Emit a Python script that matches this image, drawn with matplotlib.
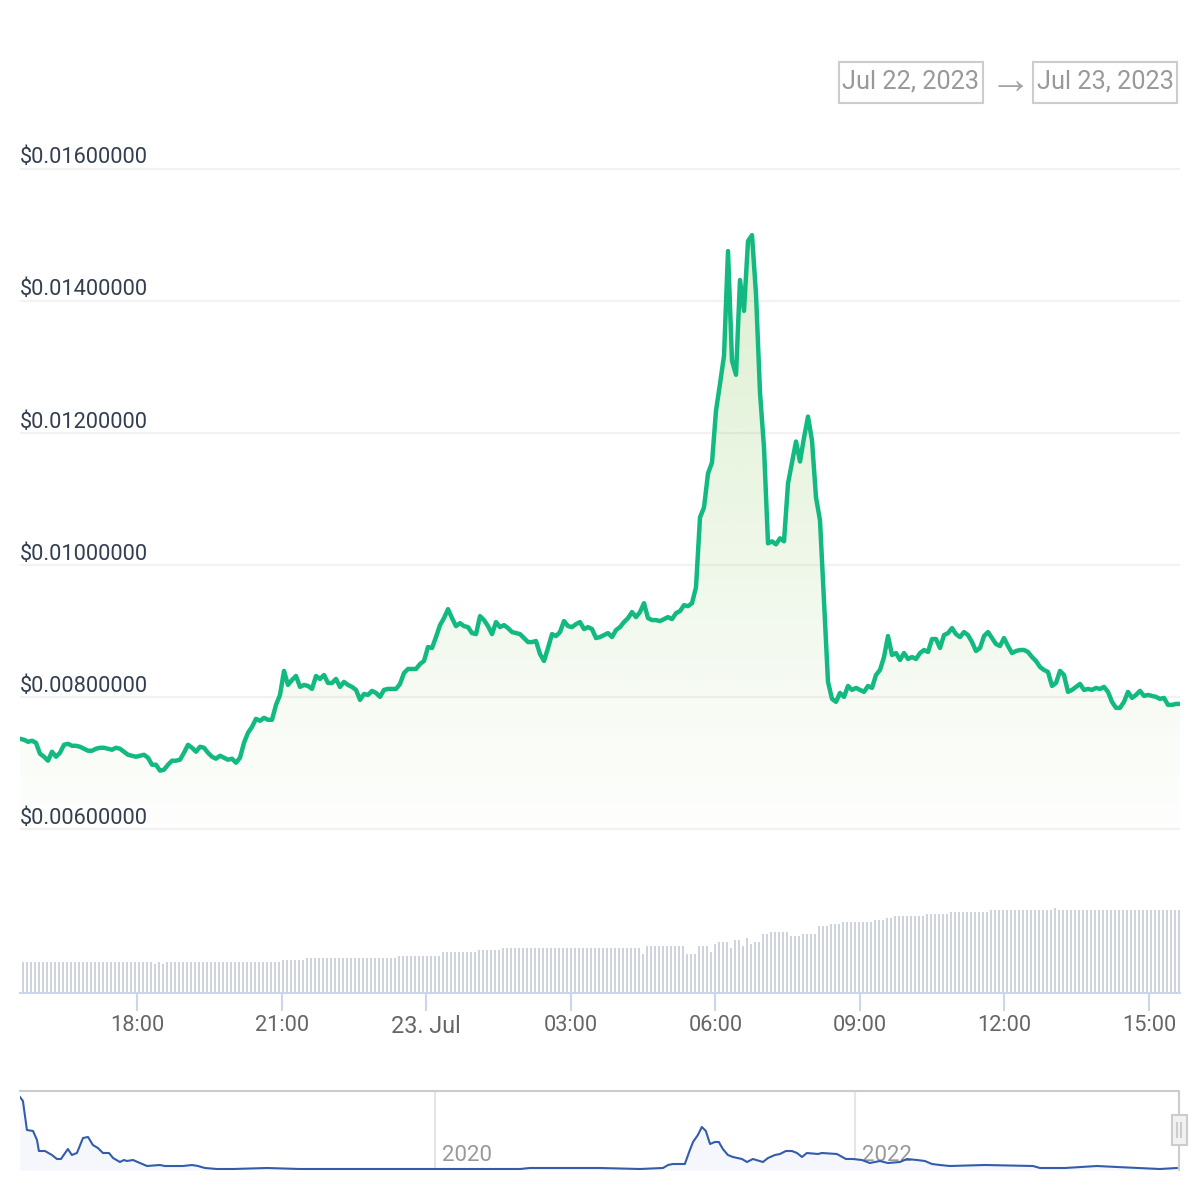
# price chart with volume bars and navigator strip
import numpy as np
import pandas as pd
import matplotlib
matplotlib.use('Agg')
import matplotlib.pyplot as plt
import matplotlib.dates as mdates
from matplotlib.patches import Rectangle

plt.rcParams['font.family'] = ['Roboto', 'DejaVu Sans']

# price in millionths of a dollar, one value every 5 minutes or so
price_e6 = [
    7366, 7351, 7320, 7336, 7305, 7139, 7094, 7034, 7170, 7094, 7154, 7275, 7290, 7260, 7260, 7245,
    7215, 7185, 7185, 7215, 7230, 7230, 7215, 7200, 7230, 7215, 7170, 7124, 7109, 7094, 7109, 7124,
    7079, 6973, 6973, 6883, 6898, 6973, 7034, 7034, 7049, 7154, 7275, 7230, 7170, 7245, 7230, 7154,
    7094, 7064, 7109, 7079, 7049, 7064, 7003, 7079, 7305, 7456, 7547, 7668, 7638, 7683, 7653, 7653,
    7879, 8030, 8393, 8181, 8257, 8317, 8151, 8181, 8166, 8121, 8317, 8272, 8332, 8211, 8211, 8272,
    8151, 8227, 8181, 8151, 8106, 7955, 8045, 8030, 8091, 8060, 8000, 8106, 8121, 8121, 8121, 8196,
    8362, 8423, 8423, 8423, 8498, 8544, 8755, 8740, 8906, 9087, 9193, 9329, 9193, 9072, 9117, 9072,
    9057, 8966, 8951, 9223, 9163, 9072, 8951, 9133, 9057, 9087, 9042, 8982, 8966, 8951, 8891, 8830,
    8830, 8846, 8649, 8544, 8740, 8951, 8921, 8982, 9148, 9072, 9057, 9102, 9133, 9027, 9057, 9027,
    8891, 8906, 8936, 8966, 8906, 9012, 9057, 9133, 9193, 9284, 9208, 9284, 9419, 9193, 9163, 9163,
    9148, 9178, 9208, 9178, 9268, 9299, 9389, 9374, 9419, 9661, 10718, 10869, 11382, 11549, 12334, 12741,
    13164, 14750, 13089, 12877, 14312, 13844, 14901, 14991, 14100, 12606, 11775, 10325, 10356, 10310, 10401, 10356,
    11231, 11549, 11866, 11564, 11926, 12243, 11881, 11020, 10673, 9465, 8227, 7970, 7925, 8060, 8000, 8166,
    8106, 8136, 8106, 8076, 8166, 8136, 8332, 8408, 8604, 8921, 8634, 8664, 8559, 8664, 8574, 8604,
    8574, 8664, 8710, 8680, 8876, 8876, 8740, 8936, 8966, 9042, 8951, 8906, 8982, 8936, 8830, 8695,
    8740, 8921, 8982, 8891, 8800, 8770, 8891, 8770, 8664, 8695, 8710, 8710, 8680, 8604, 8544, 8453,
    8408, 8377, 8166, 8211, 8393, 8332, 8076, 8106, 8151, 8196, 8106, 8121, 8106, 8136, 8121, 8151,
    8076, 7925, 7834, 7834, 7925, 8076, 7985, 8030, 8091, 8015, 8030, 8015, 8000, 7970, 7985, 7879,
    7879, 7894, 7894,
]

# volume steps: level and how many bars stay at it
volume_levels = [31, 29, 31, 29, 31, 33, 35, 37, 41, 43, 45, 39, 47, 39, 47, 41, 49, 51, 45, 53, 47, 55,
                 49, 51, 59, 61, 57, 59, 67, 69, 71, 73, 75, 77, 79, 81, 83, 85, 83]
volume_counts = [33, 1, 1, 1, 29, 6, 23, 11, 9, 6, 35, 1, 10, 3, 3, 1, 1, 3, 1, 2, 1, 1,
                 1, 2, 2, 5, 3, 4, 3, 3, 8, 3, 2, 8, 6, 10, 16, 1, 31]

# navigator line
nav_years = [2018.024, 2018.038, 2018.057, 2018.086, 2018.105, 2018.114, 2018.143, 2018.176, 2018.2, 2018.219,
             2018.252, 2018.271, 2018.295, 2018.324, 2018.348, 2018.371, 2018.395, 2018.419, 2018.448, 2018.467,
             2018.5, 2018.519, 2018.533, 2018.562, 2018.595, 2018.629, 2018.69, 2018.714, 2018.771, 2018.8,
             2018.843, 2018.871, 2018.905, 2018.962, 2019.038, 2019.2, 2019.357, 2019.929, 2020.405, 2020.452,
             2020.786, 2020.976, 2021.086, 2021.11, 2021.133, 2021.19, 2021.214, 2021.229, 2021.252, 2021.271,
             2021.29, 2021.31, 2021.333, 2021.352, 2021.371, 2021.395, 2021.419, 2021.462, 2021.486, 2021.514,
             2021.562, 2021.586, 2021.619, 2021.643, 2021.671, 2021.7, 2021.724, 2021.748, 2021.771, 2021.824,
             2021.843, 2021.914, 2021.957, 2021.99, 2022.033, 2022.071, 2022.119, 2022.157, 2022.214, 2022.248,
             2022.295, 2022.333, 2022.367, 2022.405, 2022.452, 2022.619, 2022.848, 2022.881, 2023.0, 2023.152,
             2023.248, 2023.452, 2023.533]
nav_values = [73, 69, 40, 39, 30, 19, 19, 15, 11, 11,
              21, 15, 17, 32, 33, 25, 22, 17, 17, 12,
              8, 10, 9, 10, 7, 4, 5, 4, 4, 4,
              5, 4, 2, 1, 1, 2, 1, 1, 1, 2,
              2, 1, 2, 5, 6, 6, 20, 28, 35, 43,
              39, 26, 28, 28, 21, 15, 13, 11, 8, 11,
              8, 12, 15, 16, 19, 19, 17, 13, 17, 16,
              17, 16, 11, 11, 10, 7, 9, 7, 8, 11,
              10, 9, 6, 5, 4, 5, 4, 2, 2, 4,
              3, 1, 2]

y_ticks = [0.006, 0.008, 0.010, 0.012, 0.014, 0.016]
y_labels = ['$0.00600000', '$0.00800000', '$0.01000000', '$0.01200000', '$0.01400000', '$0.01600000']
x_tick_times = ['2023-07-22 18:00', '2023-07-22 21:00', '2023-07-23 00:00', '2023-07-23 03:00',
                '2023-07-23 06:00', '2023-07-23 09:00', '2023-07-23 12:00', '2023-07-23 15:00']
x_tick_labels = ['18:00', '21:00', '23. Jul', '03:00', '06:00', '09:00', '12:00', '15:00']
date_from = 'Jul 22, 2023'
date_to = 'Jul 23, 2023'

prices = np.array(price_e6) / 1e6
volumes = np.repeat(volume_levels, volume_counts)
step_days = 298.8 / 86400
t = mdates.date2num(pd.Timestamp('2023-07-22 15:34:19')) + np.arange(len(prices)) * step_days


def px_axes(fig, left, top, right, bottom):
    # axes placed in pixels of the 1200x1200 picture
    a = fig.add_axes([left / 1200, 1 - bottom / 1200, (right - left) / 1200, (bottom - top) / 1200])
    a.patch.set_alpha(0)
    for s in a.spines.values():
        s.set_visible(False)
    return a


fig = plt.figure(figsize=(12, 12), dpi=100)

# main price chart
ax = px_axes(fig, 20, 168.5, 1180, 829)
ax.set_xticks([])
ax.set_yticks([])
for v, lab in zip(y_ticks, y_labels):
    ax.axhline(v, color='#f2f2f2', lw=1.5, zorder=1, clip_on=False, solid_capstyle='butt')
    ax.annotate(lab, (0, v), xycoords=ax.get_yaxis_transform(), xytext=(0, 7.7), textcoords='offset points',
                ha='left', va='center', fontsize=15.7, color='#333e50')

# green gradient below the line
grad = np.zeros((512, 1, 4))
grad[:, 0, 0] = 120 / 255
grad[:, 0, 1] = 190 / 255
grad[:, 0, 2] = 70 / 255
grad[:, 0, 3] = np.linspace(0.25, 0.01, 512)
img = ax.imshow(grad, extent=[t[0], t[-1], 0.006, 0.015], origin='upper', aspect='auto', zorder=2)
poly = ax.fill_between(t, prices, 0.006, color='none')
img.set_clip_path(poly.get_paths()[0], transform=ax.transData)
ax.set_xlim(t[0], t[-1])
ax.set_ylim(0.006, 0.016)
ax.plot(t, prices, color='#12b981', lw=3.2, solid_joinstyle='round', zorder=3)

# volume bars
bx = px_axes(fig, 20, 893, 1180, 993)
bx.bar(t[:len(volumes)] + 0.75 * step_days, volumes, width=0.5 * step_days, color='#cfd3dd', linewidth=0)
bx.set_xlim(t[0], t[-1])
bx.set_ylim(0, 100)
bx.set_yticks([])
bx.spines['bottom'].set_visible(True)
bx.spines['bottom'].set_color('#ccd6eb')
bx.spines['bottom'].set_linewidth(1.5)
bx.set_xticks(mdates.date2num(pd.to_datetime(x_tick_times)))
bx.set_xticklabels(x_tick_labels, fontsize=15.7, color='#666666')
bx.get_xticklabels()[2].set_fontsize(16.8)
bx.tick_params(axis='x', length=13, width=1.5, color='#ccd6eb', pad=2.5)

# navigator
nx = px_axes(fig, 20, 1091, 1180, 1170)
nx.set_xlim(nav_years[0], 2023.548)
nx.set_ylim(0, 79)
nx.set_xticks([])
nx.set_yticks([])
nx.fill_between(nav_years, nav_values, 0, color='#f5f7fc', lw=0, zorder=1)
for yr in [2020, 2022]:
    nx.axvline(yr, color='#e6e6e6', lw=1.5, zorder=0)
    nx.annotate(str(yr), (yr, 14.5), xycoords='data', xytext=(5, 0), textcoords='offset points',
                ha='left', va='center', fontsize=16, color='#999999', zorder=2)
nx.plot(nav_years, nav_values, color='#335cad', lw=1.5, zorder=3)

# date boxes, navigator frame and handle
ov = px_axes(fig, 0, 0, 1200, 1200)
ov.set_xlim(0, 1200)
ov.set_ylim(1200, 0)
ov.set_xticks([])
ov.set_yticks([])
ov.plot([20, 1179, 1179], [1091, 1091, 1170], color='#cccccc', lw=1.5)
ov.add_patch(Rectangle((1171.5, 1114.5), 15, 30, facecolor='#f2f2f2', edgecolor='#cccccc', lw=1.5, zorder=4))
ov.plot([1177, 1177], [1123, 1137], color='#cccccc', lw=1.5, zorder=5)
ov.plot([1181, 1181], [1123, 1137], color='#cccccc', lw=1.5, zorder=5)
for x0, x1, lab in [(839, 983, date_from), (1033, 1177, date_to)]:
    ov.add_patch(Rectangle((x0, 62), x1 - x0, 41, facecolor='none', edgecolor='#cccccc', lw=1.5))
    ov.text((x0 + x1) / 2, 82, lab, ha='center', va='center', fontsize=18.2, color='#999999')
ov.text(1010, 81.5, '\u2192', ha='center', va='center', fontsize=30, color='#a5a5a5',
        family=['Liberation Sans', 'DejaVu Sans'])

fig.savefig('out.png', dpi=100)
